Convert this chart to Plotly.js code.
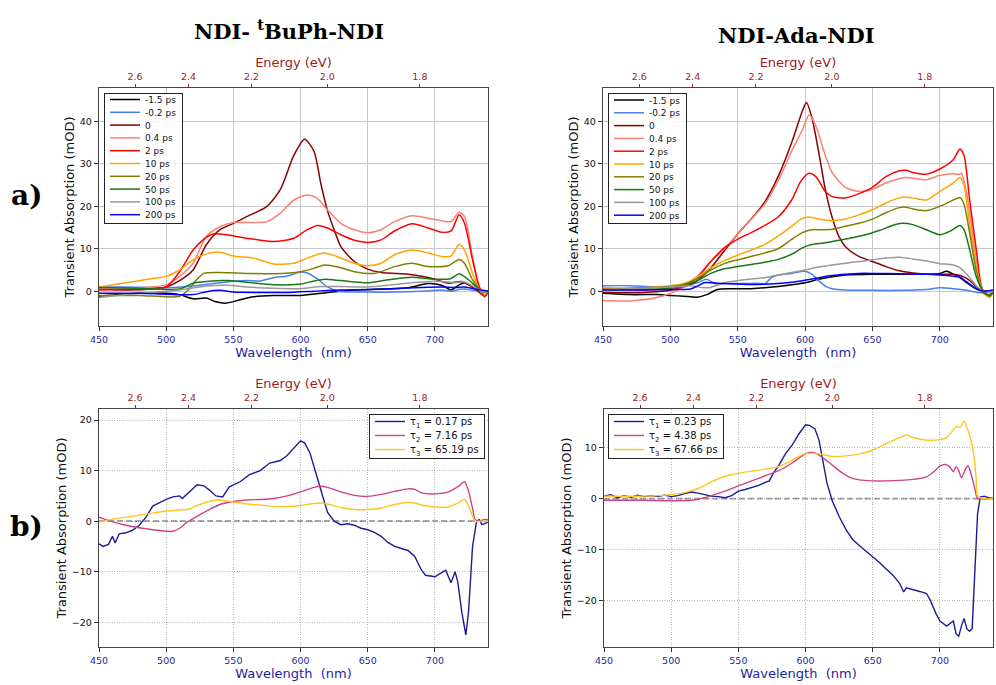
<!DOCTYPE html>
<html><head><meta charset="utf-8">
<script src="https://cdn.plot.ly/plotly-3.0.1.min.js"></script>
<style>html,body{margin:0;padding:0;background:#fff}#c{width:996px;height:685px}</style>
</head><body><div id="c"></div>
<script>
// ---------- data ----------
const seriesNames = ['-1.5 ps','-0.2 ps','0','0.4 ps','2 ps','10 ps','20 ps','50 ps','100 ps','200 ps'];
const seriesColors = ['#000000','#4a7ff0','#8b0000','#fa8072','#ff0000','#ffa500','#808000','#187818','#999999','#0000ff'];
const wlTicks = [450,500,550,600,650,700];
const energyTicks = [2.6,2.4,2.2,2.0,1.8];

// Top-left: NDI-tBuPh-NDI
const tl_m15_x=[450,480,500,510,520,530,537,545,555,565,580,600,620,640,660,680,695,705,712,718,722,735,740];
const tl_m15_y=[-1.2,-0.5,-0.5,-0.8,-1.8,-1.6,-2.5,-2.8,-2,-1.3,-1,-1,-0.3,0.3,0.5,0.8,1.8,1.4,0.3,1.5,2,0,0];
const tl_m02_x=[450,470,500,520,540,560,570,580,590,600,605,612,620,628,650,670,690,705,712,720,735,740];
const tl_m02_y=[1,1,0.8,1.2,2,2.5,2.4,3.2,3.6,4.5,4.3,3,1,0,-0.2,-0.2,0,0.3,0,0.5,0,0];
const tl_0_x=[450,470,490,500,510,520,530,540,550,560,575,585,595,603,610,615,620,625,630,640,650,660,680,690,700,710,720,730,737,740];
const tl_0_y=[0.5,0.3,0.5,1,2.5,5,11,14.5,16,17.6,20,24,32,35.8,33,25.5,19,14.5,10.5,7,5.2,4.4,4,3.5,2.8,1.9,2.3,0.5,-1.1,0];
const tl_04_x=[450,480,500,510,520,530,540,550,560,575,585,595,605,612,620,630,640,650,660,670,683,695,705,712,718,722,728,733,737,740];
const tl_04_y=[0.5,0.8,1.5,3.5,6.6,13,15.2,16.2,16.2,16.4,18.4,21.5,22.7,22,19.2,16,14.5,13.8,14.5,16.4,17.8,17.2,16.6,16.4,18.6,17.6,8,0.7,-1,0];
const tl_2_x=[450,480,500,510,520,527,535,545,560,580,595,605,613,620,630,640,650,660,670,683,695,705,712,718,722,728,733,737,740];
const tl_2_y=[0.3,0.5,1,4.6,9.7,12,13.5,13.3,12.5,11.7,12.5,14.5,15.5,14.9,13.3,12,11.5,12.1,14.2,15.9,14.9,13.9,14.2,18,16,7.4,1.1,-1.3,0];
const tl_10_x=[450,470,490,500,510,520,530,540,550,565,580,595,605,617,627,640,650,660,670,683,695,705,712,718,722,728,733,737,740];
const tl_10_y=[1,2,3,3.5,5,7.4,8.8,9.2,8.3,7.8,6.4,6.6,7.8,9,8.2,6.6,6,6.6,8.6,9.7,9,8.2,8.3,11,9.7,4.2,0.5,-0.5,0];
const tl_20_x=[450,480,510,517,522,528,540,560,580,600,610,618,628,640,655,670,683,695,710,718,722,728,735,740];
const tl_20_y=[-1,-1,-1.2,0.5,2.5,4.2,4.4,4.2,4.1,4.6,5.4,6.2,5.7,4.6,4.2,5.8,6.6,5.8,6,7.5,6.6,2.7,0,0];
const tl_50_x=[450,480,510,520,530,545,560,580,600,610,618,630,650,665,683,700,712,718,725,735,740];
const tl_50_y=[0.9,0.7,0.5,1.9,2.3,2.5,2.1,1.5,1.7,2.4,2.8,2.5,2,2.7,3.3,2.8,3,4.1,2.7,0,0];
const tl_100_x=[450,480,510,530,545,560,580,600,615,630,650,670,690,705,715,722,735,740];
const tl_100_y=[-1.5,-0.5,0.3,1.2,1.4,1,0.7,0.6,1.1,1.1,1,1.6,2.2,2.3,2,2.2,0,0];
const tl_200_x=[450,480,500,520,530,540,550,570,590,610,630,650,670,690,705,715,722,735,740];
const tl_200_y=[-0.5,-0.5,-0.7,-0.8,-0.1,0.2,-0.2,-0.3,-0.3,0,0.3,0.4,0.6,0.9,1,0.9,1,0.2,0];

// Top-right: NDI-Ada-NDI
const tr_m15_x=[450,470,490,500,510,520,527,535,545,560,580,590,600,610,620,630,650,670,690,700,705,710,715,720,728,735,740];
const tr_m15_y=[-0.5,-0.8,-0.8,-1,-1.2,-1.4,-0.8,0.4,0.6,0.6,1.1,1.5,2,2.8,3.4,3.8,4,4,4,4.2,4.7,4,3.2,2,0.4,0,0];
const tr_m02_x=[450,470,490,510,520,527,533,540,555,565,570,575,580,590,600,605,610,615,620,630,650,670,690,700,710,720,728,735,740];
const tr_m02_y=[1.3,1.3,1,1.3,2,2.8,1.8,1.8,1.8,1.9,1.7,3.2,3.8,4.2,4.7,4,2.5,1.2,0.6,0.3,0.2,0.2,0.4,0.8,0.6,0.2,-0.3,-0.3,0];
const tr_0_x=[450,480,500,510,520,530,540,550,560,570,580,590,598,601,605,610,615,620,625,630,640,650,660,670,680,690,700,710,715,720,730,735,740];
const tr_0_y=[-0.3,-0.3,0.2,1,2.5,5.5,9.5,13.5,17,21,27,35,42.5,44.5,41,33,24,17.5,13,10.5,8.2,7,5.8,4.8,4.3,4,4,4,3.7,3,0.3,-1,0];
const tr_04_x=[450,470,490,500,510,520,530,540,550,560,570,580,590,598,603,608,615,620,630,640,650,660,670,675,690,700,710,714,716,720,725,730,735,740];
const tr_04_y=[-2.2,-2.3,-1.5,-0.5,1,3.5,7,10,13.5,17,20.5,26,33,38,41.6,39,32,28,24.5,23.5,24,25.5,26.5,26.8,26.3,27.3,27.7,27.5,27.8,23,12,2,-1,0];
const tr_2_x=[450,480,500,510,520,530,540,550,560,570,580,590,597,603,608,615,620,630,640,650,660,670,675,680,690,700,710,715,718,722,727,732,737,740];
const tr_2_y=[0.5,0.3,0.5,1.2,3.2,7,10.2,12.3,13.8,15.5,17.5,21.5,26,27.8,27,23.5,22.3,22,23,24.5,27,28.4,28.5,28,27.6,28.8,31,33.5,32,22,10,0,-1,0];
const tr_10_x=[450,480,500,510,520,530,540,550,560,570,580,590,597,603,610,620,630,640,650,660,670,675,680,690,700,710,715,718,722,727,732,737,740];
const tr_10_y=[0.8,0.8,1.3,1.8,3.3,5.5,7.2,8.5,9.7,11,13,15.3,17,17.5,17,16.6,17,18,19.2,20.8,22,22.2,22,21.5,23.5,25.5,26.8,25,16,6,0,-1.5,0];
const tr_20_x=[450,500,510,520,530,540,550,560,570,580,590,598,605,612,620,630,640,650,660,670,675,680,690,700,710,715,718,722,727,732,737,740];
const tr_20_y=[0.4,1.1,1.6,3,5,6.5,7.4,8.2,9,10,12.2,13.8,14.5,14.5,14.6,15.3,16,17,18.5,19.7,19.8,19.4,19,20,21.5,22.1,20.5,14,5,0,-1.2,0];
const tr_50_x=[450,500,510,520,530,540,550,560,570,580,590,598,605,615,625,635,645,655,665,672,680,690,700,708,715,718,722,727,732,737,740];
const tr_50_y=[0.3,0.7,1.2,2.5,4.2,5.3,5.8,6.3,6.8,7.5,8.7,10.2,11,11.4,12,12.6,13.3,14.3,15.5,16,15.7,14.5,13.3,14.2,15.5,14.5,10,3.5,0,-1,0];
const tr_100_x=[450,500,515,525,530,540,550,560,570,580,590,600,610,620,630,640,650,660,670,680,690,700,710,715,720,728,732,740];
const tr_100_y=[0.3,1,1.3,0.8,0.9,2,2.5,2.9,3.2,3.8,4.4,5,5.7,6.2,6.6,7,7.4,7.8,8,7.6,7.1,6.5,6.2,5.5,4,1,0,0];
const tr_200_x=[450,480,500,515,520,525,540,560,580,590,600,610,620,630,640,650,670,690,700,710,715,720,728,733,740];
const tr_200_y=[0.3,0.3,0.4,0.5,1.2,2,1.8,1.6,1.8,2.1,2.6,3.2,3.7,4,4.2,4.2,4.1,4,3.8,3.5,3.3,2.2,0.5,0,0.3];

// Bottom panels: decay-associated spectra
const bl_names=['τ<sub>1</sub> = 0.17 ps','τ<sub>2</sub> = 7.16 ps','τ<sub>3</sub> = 65.19 ps'];
const br_names=['τ<sub>1</sub> = 0.23 ps','τ<sub>2</sub> = 4.38 ps','τ<sub>3</sub> = 67.66 ps'];
const dasColors=['#1c1c96','#cc4488','#ffc61e'];

const bl_t1_x=[450,453,457,460,462,465,470,475,480,485,490,495,500,505,510,512,515,520,523,528,532,537,542,547,555,562,570,577,585,590,595,600,603,607,612,617,620,625,630,635,640,645,650,655,660,665,670,675,680,685,690,693,697,700,705,708,712,715,717,720,723,725,728,731,733,735,738,740];
const bl_t1_y=[-4.5,-5,-4.6,-3,-4.3,-2.5,-2.3,-1.8,-0.8,0.8,3,3.7,4.3,4.8,5,4.5,5.2,6.5,7.2,7,6.2,5,4.8,6.8,7.8,9.2,10,11.5,12,13,14.5,15.9,15.5,13.5,9,4.5,1.8,0,-0.7,-0.5,-0.8,-1.4,-1.7,-2.2,-3,-4.2,-5,-5.4,-5.8,-7,-9.7,-10.7,-10.8,-11,-10.2,-9.7,-12.2,-10,-12,-18,-22.5,-18,-5,0,0.3,-0.7,-0.4,0];
const bl_t2_x=[450,460,470,480,490,500,505,510,515,520,530,540,550,560,570,580,590,600,610,615,620,630,640,650,660,670,680,685,690,700,710,718,722,725,728,730,733,736,740];
const bl_t2_y=[0.8,-0.1,-0.8,-1.3,-1.7,-2,-2,-1.4,-0.3,0.5,2,3.3,3.9,4.2,4.3,4.5,5,5.8,6.7,6.9,6.7,5.8,5.1,4.9,5.3,5.9,6.4,6.3,5.6,5.4,5.8,7,7.8,6,2.5,0.3,0,0.3,0.3];
const bl_t3_x=[450,460,470,480,490,500,510,517,525,535,540,550,560,570,580,590,600,610,615,620,630,640,650,660,670,680,685,690,700,710,718,722,725,728,730,735,740];
const bl_t3_y=[-0.2,0.4,0.8,1.2,1.6,2,2.2,2.4,3.3,4.1,4.2,3.8,3.4,3.2,2.9,2.9,3.1,3.5,3.6,3.4,2.7,2.3,2.3,2.6,3.3,3.7,3.6,3.2,2.8,2.8,3.7,4.3,3,1,0,0,0];

const br_t1_x=[450,455,460,465,470,475,480,485,490,495,500,505,510,515,520,525,530,535,540,545,550,555,560,565,570,573,576,580,585,590,595,600,603,607,610,613,616,620,625,630,635,640,645,650,655,660,665,670,673,675,680,685,690,693,697,700,705,708,710,712,714,716,718,720,722,724,726,728,730,733,736,740];
const br_t1_y=[0.5,0.8,0.2,0.6,0.3,0.7,0.4,0.6,0.4,0.7,0.4,0.6,1,1.3,1.1,0.8,0.5,0.4,0.2,0.6,1.5,1.8,2.2,2.6,3.2,3.5,5,6.5,8.8,10.5,12.7,14.5,14.4,13.7,11.5,7,3,-0.5,-3.5,-6,-8,-9.2,-10.3,-11.5,-12.5,-13.8,-15,-16.6,-18.3,-17.5,-17.8,-18.2,-18.6,-20,-22.5,-24,-25,-24.5,-24,-26.5,-27,-25,-23.5,-25.5,-26,-25.5,-15,-3,0.3,0.5,0.2,0];
const br_t2_x=[450,480,500,515,520,525,530,540,550,560,570,580,590,598,603,607,612,618,625,632,640,650,660,670,680,690,695,700,704,707,710,712,714,716,719,721,723,726,728,733,740];
const br_t2_y=[-0.3,-0.3,-0.4,-0.3,-0.1,0.2,0.6,1.5,2.5,3.5,4.5,5.5,7,8.5,9.1,9,8.2,7,5.5,4.3,3.7,3.5,3.5,3.6,3.8,4.3,5.2,6.4,6.7,6.3,5.3,6.3,5.5,4.1,5.8,6.5,5,2,0,0,0];
const br_t3_x=[450,480,500,510,520,530,540,550,560,570,580,590,598,603,610,620,630,640,650,660,670,675,680,690,700,705,710,712,715,718,720,722,725,727,728,733,740];
const br_t3_y=[0.5,0.5,0.8,1.2,2,3.3,4.4,5,5.4,5.8,6.3,7.5,8.7,8.9,8.8,8.3,8.4,8.8,9.5,10.8,12,12.5,12,11.5,11.6,12,13.5,14.2,14,15.2,14,12.5,9,4,0.5,0,0];

// ---------- build ----------
const tlX=[tl_m15_x,tl_m02_x,tl_0_x,tl_04_x,tl_2_x,tl_10_x,tl_20_x,tl_50_x,tl_100_x,tl_200_x];
const tlY=[tl_m15_y,tl_m02_y,tl_0_y,tl_04_y,tl_2_y,tl_10_y,tl_20_y,tl_50_y,tl_100_y,tl_200_y];
const trX=[tr_m15_x,tr_m02_x,tr_0_x,tr_04_x,tr_2_x,tr_10_x,tr_20_x,tr_50_x,tr_100_x,tr_200_x];
const trY=[tr_m15_y,tr_m02_y,tr_0_y,tr_04_y,tr_2_y,tr_10_y,tr_20_y,tr_50_y,tr_100_y,tr_200_y];
const blX=[bl_t1_x,bl_t2_x,bl_t3_x], blY=[bl_t1_y,bl_t2_y,bl_t3_y];
const brX=[br_t1_x,br_t2_x,br_t3_x], brY=[br_t1_y,br_t2_y,br_t3_y];

const XR=[450,739.5];
const traces=[];
function addSet(X,Y,names,colors,xa,ya,lg,w,noisyFirst){
  for(let i=0;i<X.length;i++){
    const lin = noisyFirst && i===0;
    traces.push({x:X[i],y:Y[i],name:names[i],type:'scatter',mode:'lines',xaxis:xa,yaxis:ya,legend:lg,
      line:{color:colors[i],width:w,shape:lin?'linear':'spline',smoothing:0.7}});
  }
}
addSet(tlX,tlY,seriesNames,seriesColors,'x','y','legend',1.5,false);
addSet(trX,trY,seriesNames,seriesColors,'x2','y2','legend2',1.5,false);
addSet(blX,blY,bl_names,dasColors,'x3','y3','legend3',1.4,true);
addSet(brX,brY,br_names,dasColors,'x4','y4','legend4',1.4,true);
// empty traces that only activate the top (energy) axes
[['x5','y'],['x6','y2'],['x7','y3'],['x8','y4']].forEach(([xa,ya])=>{
  traces.push({x:XR,y:[null,null],xaxis:xa,yaxis:ya,type:'scatter',mode:'lines',showlegend:false,hoverinfo:'skip'});
});

const W=996,H=685;
const fx=p=>p/W, fy=p=>1-p/H;
const wlBlue='#1f1f9e', eRed='#a01c1c';

function wlAxis(dom,anchor){
  return {domain:dom,anchor:anchor,range:XR,tickmode:'array',tickvals:wlTicks,
    ticks:'outside',ticklen:4,tickcolor:'#333',tickfont:{size:9.5,color:wlBlue},
    showline:true,mirror:true,linecolor:'#444',linewidth:1.2,zeroline:false,
    title:{text:'Wavelength\u00a0 (nm)',font:{size:13,color:wlBlue},standoff:1},automargin:false};
}
function eAxis(over,anchor){
  return {overlaying:over,anchor:anchor,side:'top',range:XR,tickmode:'array',
    tickvals:energyTicks.map(e=>1239.84/e),ticktext:energyTicks.map(e=>e.toFixed(1)),
    ticks:'outside',ticklen:3,tickcolor:eRed,tickfont:{size:9.5,color:eRed},
    showgrid:false,zeroline:false,showline:false,
    title:{text:'Energy (eV)',font:{size:13,color:eRed},standoff:0},automargin:false};
}
function yAxis(dom,anchor,range,tv){
  return {domain:dom,anchor:anchor,range:range,tickmode:'array',tickvals:tv,
    ticks:'outside',ticklen:4,tickcolor:'#333',tickfont:{size:9.5,color:'#111'},
    showline:true,mirror:true,linecolor:'#444',linewidth:1.2,zeroline:false,
    title:{text:'Transient Absorption (mOD)',font:{size:13,color:'#111'},standoff:2},automargin:false};
}
const topDomY=[fy(326),fy(88)], botDomY=[fy(647),fy(409)];
const L=[fx(99),fx(488)], R=[fx(603),fx(993)], R2=[fx(604),fx(993)];
const gridTop={showgrid:true,gridcolor:'#c8c8c8',gridwidth:1};
const gridBot={showgrid:true,gridcolor:'#b8b8b8',gridwidth:1,griddash:'1px,1.5px'};
const lg=(x,y,xa,fs)=>({x:x,y:y,xanchor:xa,yanchor:'top',bgcolor:'rgba(255,255,255,0.85)',bordercolor:'#222',borderwidth:1,font:{size:fs,color:'#111'},itemwidth:30,tracegroupgap:0});

const layout={
  width:W,height:H,margin:{l:0,r:0,t:0,b:0},paper_bgcolor:'#fff',plot_bgcolor:'#fff',
  font:{family:'DejaVu Sans',color:'#111'},showlegend:true,
  xaxis:Object.assign(wlAxis(L,'y'),gridTop),
  xaxis2:Object.assign(wlAxis(R,'y2'),gridTop),
  xaxis3:Object.assign(wlAxis(L,'y3'),gridBot),
  xaxis4:Object.assign(wlAxis(R2,'y4'),gridBot),
  xaxis5:eAxis('x','y'),xaxis6:eAxis('x2','y2'),xaxis7:eAxis('x3','y3'),xaxis8:eAxis('x4','y4'),
  yaxis:Object.assign(yAxis(topDomY,'x',[-8.2,47.9],[0,10,20,30,40]),gridTop),
  yaxis2:Object.assign(yAxis(topDomY,'x2',[-8.2,47.9],[0,10,20,30,40]),gridTop),
  yaxis3:Object.assign(yAxis(botDomY,'x3',[-24.9,22.2],[-20,-10,0,10,20]),gridBot),
  yaxis4:Object.assign(yAxis(botDomY,'x4',[-29.1,17.6],[-20,-10,0,10]),gridBot),
  legend:lg(fx(104),fy(93),'left',9),
  legend2:lg(fx(608),fy(93),'left',9),
  legend3:lg(fx(485),fy(414),'right',10),
  legend4:lg(fx(608),fy(414),'left',10),
  shapes:[
    {type:'line',xref:'x3 domain',x0:0,x1:1,yref:'y3',y0:0,y1:0,layer:'below',line:{color:'#8a8a8a',width:1.8,dash:'6px,3px'}},
    {type:'line',xref:'x4 domain',x0:0,x1:1,yref:'y4',y0:0,y1:0,layer:'below',line:{color:'#8a8a8a',width:1.8,dash:'6px,3px'}}
  ],
  annotations:[
    {text:'<b>NDI- <sup>t</sup>BuPh-NDI</b>',xref:'paper',yref:'paper',x:fx(289),y:fy(30),xanchor:'center',yanchor:'middle',showarrow:false,font:{family:'DejaVu Serif',size:21,color:'#000'}},
    {text:'<b>NDI-Ada-NDI</b>',xref:'paper',yref:'paper',x:fx(796),y:fy(35),xanchor:'center',yanchor:'middle',showarrow:false,font:{family:'DejaVu Serif',size:21,color:'#000'}},
    {text:'<b>a)</b>',xref:'paper',yref:'paper',x:fx(26),y:fy(195),xanchor:'center',yanchor:'middle',showarrow:false,font:{family:'DejaVu Serif',size:28,color:'#000'}},
    {text:'<b>b)</b>',xref:'paper',yref:'paper',x:fx(26),y:fy(526),xanchor:'center',yanchor:'middle',showarrow:false,font:{family:'DejaVu Serif',size:28,color:'#000'}}
  ]
};

// Compact the legend rows (Plotly's legend has a 19px minimum row height)
function compactLegends(){
  const parse=t=>{const m=/translate\(\s*([-\d.e]+)[ ,]+([-\d.e]+)\s*\)/.exec(t||'');return m?[+m[1],+m[2]]:[0,0];};
  const boxes=new Set();
  document.querySelectorAll('g.traces').forEach(it=>{
    let g=it.parentNode;
    while(g && g.tagName && !(g.querySelector(':scope > rect.bg'))) g=g.parentNode;
    if(g && g.tagName) boxes.add(g);
  });
  boxes.forEach(lgEl=>{
    const items=[...lgEl.querySelectorAll('g.traces')];
    if(!items.length) return;
    const bg=lgEl.querySelector(':scope > rect.bg');
    const many=items.length>4;
    const step=many?12.8:14, padTop=many?6.5:7, padBot=8.5;
    const top=bg.getBoundingClientRect().top;
    items.forEach((it,i)=>{
      const t=it.querySelector('text.legendtext')||it;
      const r=t.getBoundingClientRect();
      const c=(r.top+r.bottom)/2;
      const d=top+padTop+i*step-c;
      const p=parse(it.getAttribute('transform'));
      it.setAttribute('transform','translate('+p[0]+','+(p[1]+d)+')');
    });
    bg.setAttribute('height',padTop+(items.length-1)*step+padBot);
  });
}
Plotly.newPlot('c',traces,layout,{staticPlot:true,displayModeBar:false}).then(compactLegends);
</script></body></html>
